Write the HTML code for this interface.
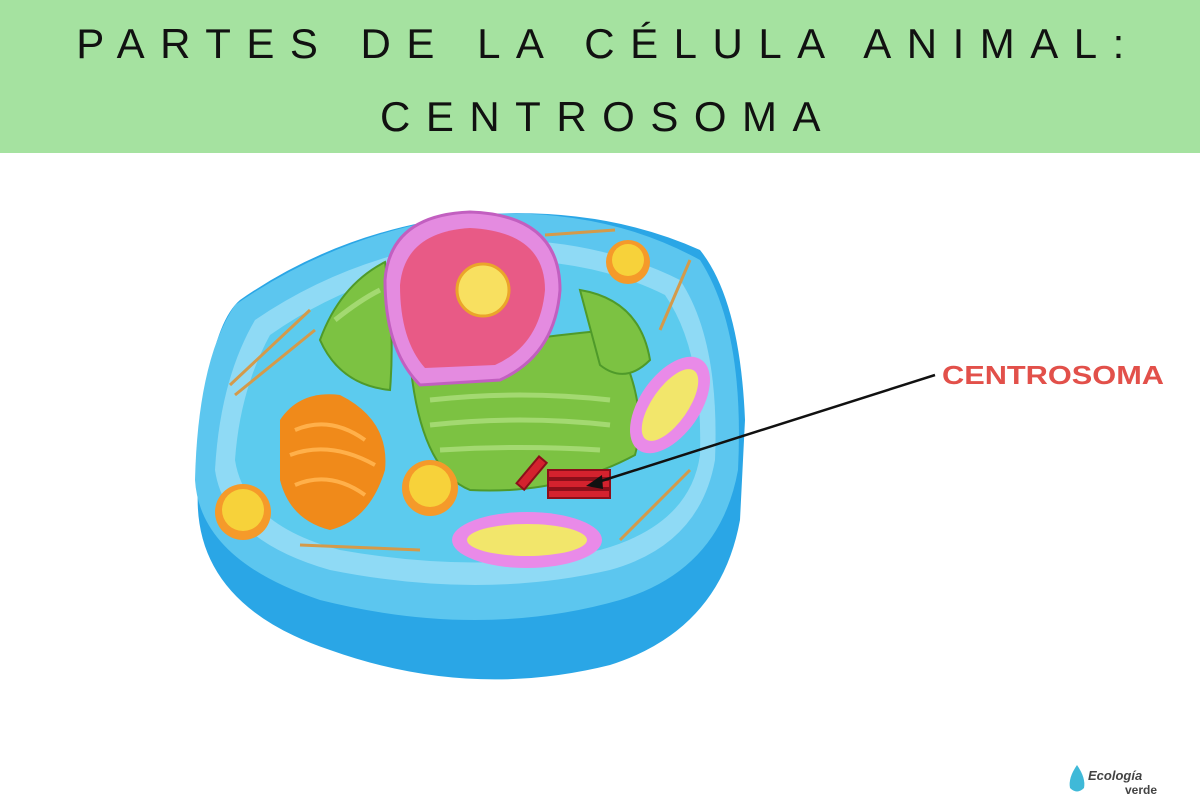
<!DOCTYPE html>
<html><head><meta charset="utf-8"><style>
body{margin:0;width:1200px;height:800px;background:#fff;overflow:hidden;font-family:"Liberation Sans",sans-serif}
.hdr{position:absolute;left:0;top:0;width:1200px;height:153px;background:#a5e2a0}
.t{position:absolute;left:8px;width:1200px;text-align:center;font-size:42px;letter-spacing:15.5px;color:#111;font-weight:400}
</style></head><body>
<div class="hdr"></div>
<div class="t" style="top:20px">PARTES DE LA CÉLULA ANIMAL:</div>
<div class="t" style="top:93px">CENTROSOMA</div>
<svg width="1200" height="800" style="position:absolute;left:0;top:0">
<path d="M200 470 Q180 600 330 650 Q470 700 610 665 Q720 630 740 520 L745 420 Q740 300 700 250 Q600 205 470 215 Q340 230 240 300 Q205 330 200 470Z" fill="#2aa6e6"/>
<path d="M195 480 Q200 560 320 600 Q480 640 620 600 Q720 570 738 470 Q745 330 700 260 Q600 205 470 215 Q340 232 235 305 Q198 360 195 480Z" fill="#5cc6ef"/>
<path d="M215 470 Q225 540 330 570 Q480 600 610 570 Q700 545 715 460 Q720 340 680 280 Q590 235 470 240 Q350 255 255 320 Q220 380 215 470Z" fill="#8fdaf5"/>
<path d="M235 460 Q245 525 340 550 Q480 575 600 550 Q690 525 700 455 Q703 350 665 295 Q585 255 470 260 Q360 272 270 335 Q240 390 235 460Z" fill="#5ccbee"/>
<g fill="#7cc242" stroke="#4f9a2a" stroke-width="2">
<path d="M410 360 Q500 340 610 330 Q650 400 635 455 Q560 495 470 490 Q420 470 410 360Z"/>
<path d="M320 340 Q340 285 385 262 Q395 330 390 390 Q340 385 320 340Z"/>
<path d="M580 290 Q640 300 650 360 Q625 385 600 365Z"/>
</g>
<g stroke="#a3d971" stroke-width="5" fill="none">
<path d="M430 400 Q520 390 610 400"/><path d="M430 425 Q520 415 610 425"/><path d="M440 450 Q520 445 600 450"/><path d="M335 320 Q360 300 380 290"/>
</g>
<path d="M385 280 Q390 215 470 212 Q560 215 560 290 Q555 355 500 380 L420 385 Q385 350 385 280Z" fill="#e48be0" stroke="#c25fc0" stroke-width="3"/>
<path d="M400 285 Q405 232 470 228 Q545 232 545 290 Q540 345 495 365 L425 368 Q400 340 400 285Z" fill="#e85a86"/>
<circle cx="483" cy="290" r="26" fill="#f8e060" stroke="#eba52a" stroke-width="3"/>
<path d="M280 420 Q300 390 340 395 Q390 420 385 470 Q370 520 330 530 Q290 520 280 480Z" fill="#f08a1a"/>
<g stroke="#ffb04a" stroke-width="4" fill="none"><path d="M295 430 Q330 415 365 440"/><path d="M290 455 Q330 440 375 465"/><path d="M295 485 Q330 470 365 495"/></g>
<circle cx="243" cy="512" r="28" fill="#f59a2a"/><circle cx="243" cy="510" r="21" fill="#f7d23a"/>
<circle cx="430" cy="488" r="28" fill="#f59a2a"/><circle cx="430" cy="486" r="21" fill="#f7d23a"/>
<circle cx="628" cy="262" r="22" fill="#f59a2a"/><circle cx="628" cy="260" r="16" fill="#f7d23a"/>
<ellipse cx="527" cy="540" rx="75" ry="28" fill="#e98ae8"/><ellipse cx="527" cy="540" rx="60" ry="16" fill="#f2e66b"/>
<ellipse cx="670" cy="405" rx="30" ry="55" transform="rotate(35 670 405)" fill="#e98ae8"/><ellipse cx="670" cy="405" rx="18" ry="42" transform="rotate(35 670 405)" fill="#f2e66b"/>
<g stroke="#d49a4a" stroke-width="3"><line x1="230" y1="385" x2="310" y2="310"/><line x1="235" y1="395" x2="315" y2="330"/><line x1="300" y1="545" x2="420" y2="550"/><line x1="620" y1="540" x2="690" y2="470"/><line x1="660" y1="330" x2="690" y2="260"/><line x1="545" y1="235" x2="615" y2="230"/></g>
<g stroke="#8c0f1a" stroke-width="2" fill="#d4222e">
<rect x="515" y="470" width="35" height="10" transform="rotate(-50 530 475)"/>
<rect x="548" y="470" width="62" height="8"/><rect x="548" y="480" width="62" height="8"/><rect x="548" y="490" width="62" height="8"/>
</g>
<line x1="935" y1="375" x2="598" y2="482" stroke="#111" stroke-width="2.5"/>
<path d="M586 486 L602 475 L603 489Z" fill="#111"/>
<text x="942" y="384" font-family="Liberation Sans,sans-serif" font-size="26" fill="#e2504a" font-weight="bold" textLength="222" lengthAdjust="spacingAndGlyphs">CENTROSOMA</text>
<path d="M1077 765 Q1068 778 1070 788 Q1077 795 1084 788 Q1086 778 1077 765Z" fill="#3fb9d8"/>
<text x="1088" y="780" font-family="Liberation Sans,sans-serif" font-size="13" font-style="italic" fill="#444" font-weight="bold">Ecología</text>
<text x="1125" y="794" font-family="Liberation Sans,sans-serif" font-size="12" fill="#444" font-weight="bold">verde</text>
</svg>
</body></html>
